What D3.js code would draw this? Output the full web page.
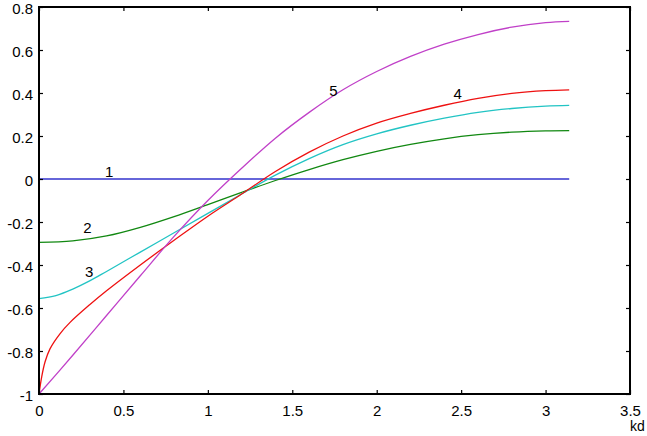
<!DOCTYPE html>
<html><head><meta charset="utf-8">
<script src="https://cdn.jsdelivr.net/npm/d3@7"></script>
<style>body{margin:0;background:#fff}svg text{font-family:"Liberation Sans",Arial,sans-serif}</style>
</head><body><svg id="c" width="647" height="436"></svg>
<script>
const xTicks=[0,0.5,1,1.5,2,2.5,3,3.5];
const yTicks=[-1,-0.8,-0.6,-0.4,-0.2,0,0.2,0.4,0.6,0.8];
const xTickLabels=["0","0.5","1","1.5","2","2.5","3","3.5"];
const yTickLabels=["-1","-0.8","-0.6","-0.4","-0.2","0","0.2","0.4","0.6","0.8"];
const xLabel="kd";

const x1=[0,3.14];
const y1=[0,0];
const x2=[0,0.2,0.4,0.6,0.8,1.0,1.2,1.4,1.6,1.8,2.0,2.2,2.4,2.6,2.8,3.0,3.14];
const y2=[-0.295,-0.288,-0.265,-0.225,-0.175,-0.119,-0.062,-0.007,0.044,0.09,0.129,0.161,0.187,0.206,0.218,0.224,0.225];
const x3=[0,0.1,0.2,0.3,0.4,0.6,0.8,1.0,1.2,1.4,1.6,1.8,2.0,2.2,2.4,2.6,2.8,3.0,3.14];
const y3=[-0.556,-0.542,-0.512,-0.474,-0.43,-0.34,-0.25,-0.16,-0.07,0.018,0.095,0.16,0.21,0.25,0.283,0.31,0.328,0.339,0.342];
const x4=[0,0.016,0.036,0.065,0.124,0.184,0.3,0.4,0.6,0.8,1.0,1.2,1.4,1.6,1.8,2.0,2.2,2.4,2.6,2.8,3.0,3.14];
const y4=[-1,-0.92,-0.85,-0.79,-0.72,-0.667,-0.585,-0.52,-0.4,-0.285,-0.173,-0.07,0.035,0.125,0.2,0.26,0.305,0.343,0.375,0.398,0.411,0.415];
const x5=[0,0.2,0.4,0.6,0.8,1.0,1.2,1.4,1.6,1.8,2.0,2.2,2.4,2.6,2.8,3.0,3.14];
const y5=[-1,-0.82,-0.635,-0.45,-0.267,-0.1,0.05,0.19,0.31,0.415,0.5,0.57,0.627,0.672,0.706,0.727,0.733];
const curveLabels=["1","2","3","4","5"];
const labelX=[0.416,0.287,0.297,2.48,1.743];
const labelY=[0.033,-0.227,-0.432,0.40,0.41];

const svg=d3.select("#c");
const L=39,R=630,T=7,B=394;
const x=d3.scaleLinear().domain([0,3.5]).range([L,R]);
const y=d3.scaleLinear().domain([-1,0.8]).range([B,T]);

const series=[[x1,y1,"#3333cc"],[x2,y2,"#118811"],[x3,y3,"#22c4c4"],[x4,y4,"#ee1111"],[x5,y5,"#c040c8"]];
const line=d3.line().x(d=>x(d[0])).y(d=>y(d[1])).curve(d3.curveCatmullRom.alpha(0.5));
series.forEach(([xs,ys,c])=>{
  svg.append("path").attr("d",line(xs.map((v,i)=>[v,ys[i]])))
    .attr("fill","none").attr("stroke",c).attr("stroke-width",1.3);
});

const fs="15px";
const gB=svg.append("g").attr("transform",`translate(0,${B})`)
  .call(d3.axisBottom(x).tickValues(xTicks).tickFormat((d,i)=>xTickLabels[i]).tickSizeInner(-4).tickSizeOuter(0).tickPadding(11));
const gT=svg.append("g").attr("transform",`translate(0,${T})`)
  .call(d3.axisTop(x).tickValues(xTicks).tickFormat("").tickSizeInner(-4).tickSizeOuter(0));
const gL=svg.append("g").attr("transform",`translate(${L},0)`)
  .call(d3.axisLeft(y).tickValues(yTicks).tickFormat((d,i)=>yTickLabels[i]).tickSizeInner(-4).tickSizeOuter(0).tickPadding(6));
const gR=svg.append("g").attr("transform",`translate(${R},0)`)
  .call(d3.axisRight(y).tickValues(yTicks).tickFormat("").tickSizeInner(-4).tickSizeOuter(0));
[gB,gT,gL,gR].forEach(g=>{
  g.select(".domain").remove();
  g.selectAll("line").attr("stroke","#000").attr("stroke-width",1.2);
  g.selectAll("text").attr("fill","#000").style("font-size",fs);
});
gL.selectAll("text").attr("dy","0.45em");
svg.append("rect").attr("x",L).attr("y",T).attr("width",R-L).attr("height",B-T)
  .attr("fill","none").attr("stroke","#000").attr("stroke-width",2);

svg.append("text").attr("x",R).attr("y",431).text(xLabel).style("font-size","14px").attr("fill","#000");

curveLabels.forEach((t,i)=>{
  svg.append("text").attr("x",x(labelX[i])).attr("y",y(labelY[i])).attr("text-anchor","middle")
    .attr("dominant-baseline","central").style("font-size",fs).attr("fill","#000").text(t);
});
</script></body></html>
